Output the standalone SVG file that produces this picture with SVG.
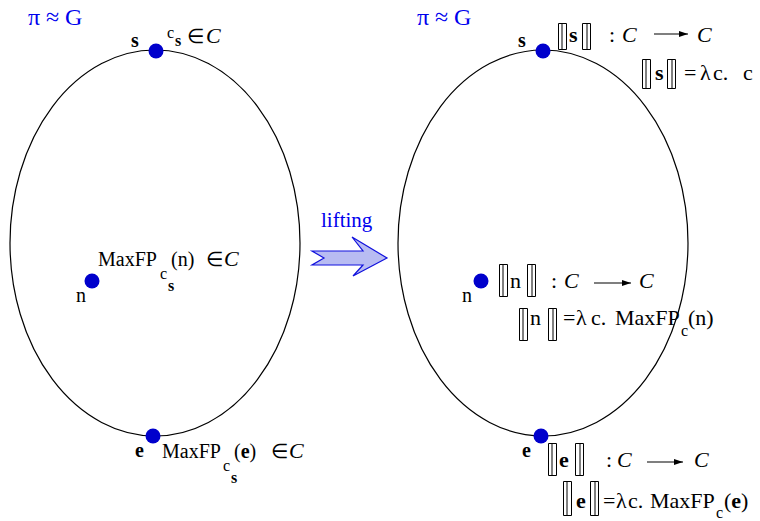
<svg xmlns="http://www.w3.org/2000/svg" width="760" height="521" viewBox="0 0 760 521">
<style>
.t{font-family:"Liberation Serif","Times New Roman",serif;font-size:20px;fill:#000}
.r{font-size:22px}
.b{font-weight:bold}
.i{font-style:italic;font-size:22px}
.sub{font-size:16px}
.blue{fill:#0000ee}
.pg{font-size:24px}
.brk{fill:none;stroke:#000;stroke-width:1}
.dot{fill:#0000cc}
.ell{fill:none;stroke:#000;stroke-width:1.2}
.ar{stroke:#000;stroke-width:1.2;fill:none;marker-end:url(#ah)}
</style>
<defs>
<marker id="ah" markerWidth="10" markerHeight="8" refX="9" refY="4" orient="auto" markerUnits="userSpaceOnUse">
<path d="M0,1 L9,4 L0,7 Z" fill="#000"/>
</marker>
</defs>
<rect width="760" height="521" fill="#fff"/>

<g id="left-graph">
<ellipse class="ell" cx="155" cy="243" rx="145" ry="193"/>
<text class="t blue pg" x="28" y="25">π</text>
<text class="t blue pg" x="46" y="25">≈</text>
<text class="t blue pg" x="65" y="25">G</text>
</g>
<g id="left-s">
<circle class="dot" cx="156" cy="51" r="7.5"/>
<text class="t b" x="131" y="47">s</text>
<text class="t sub" x="167" y="38">c</text>
<text class="t sub b" x="175" y="46">s</text>
<text class="t" x="187" y="43">∈</text>
<text class="t i" x="206" y="43">C</text>
</g>
<g id="left-n">
<circle class="dot" cx="92" cy="281" r="7.5"/>
<text class="t" x="76" y="302">n</text>
<text class="t" x="98" y="266">MaxFP</text>
<text class="t sub" x="160" y="279">c</text>
<text class="t sub b" x="168" y="291">s</text>
<text class="t" x="171" y="266">(n)</text>
<text class="t" x="206" y="266">∈</text>
<text class="t i" x="224" y="266">C</text>
</g>
<g id="left-e">
<circle class="dot" cx="153" cy="436" r="7.5"/>
<text class="t b" x="135" y="457">e</text>
<text class="t" x="162" y="458">MaxFP</text>
<text class="t sub" x="223" y="471">c</text>
<text class="t sub b" x="231" y="483">s</text>
<text class="t" x="234" y="458">(<tspan class="b">e</tspan>)</text>
<text class="t" x="271" y="458">∈</text>
<text class="t i" x="289" y="458">C</text>
</g>

<g id="lifting">
<text class="t blue" x="321" y="227" style="font-size:21px">lifting</text>
<polygon points="312,251 363,251 352,237 387,258 353,276 363,265 312,265 324,258" fill="#b8bcf2" stroke="#1010dd" stroke-width="1.2"/>
</g>

<g id="right-graph">
<ellipse class="ell" cx="543" cy="243" rx="145" ry="193"/>
<text class="t blue pg" x="417" y="25">π</text>
<text class="t blue pg" x="435" y="25">≈</text>
<text class="t blue pg" x="454" y="25">G</text>
</g>
<g id="right-s">
<circle class="dot" cx="543" cy="51" r="7.5"/>
<text class="t b" x="518" y="47">s</text>
<path class="brk" d="M558.5,23.5h8v26h-8z m3.5,0v26"/>
<text class="t b r" x="569" y="42">s</text>
<path class="brk" d="M582.5,23.5h8v26h-8z m4.5,0v26"/>
<text class="t r" x="609" y="42">:</text>
<text class="t i" x="622" y="42">C</text>
<line class="ar" x1="654" y1="34" x2="688" y2="34"/>
<text class="t i" x="697" y="42">C</text>
<path class="brk" d="M642.5,59.5h8v29h-8z m3.5,0v29"/>
<text class="t b r" x="655" y="80">s</text>
<path class="brk" d="M667.5,59.5h8v29h-8z m4.5,0v29"/>
<text class="t r" x="684" y="80">=</text>
<text class="t r" x="700" y="80">λ</text>
<text class="t r" x="713" y="80">c.</text>
<text class="t r" x="743" y="80">c</text>
</g>
<g id="right-n">
<circle class="dot" cx="481" cy="281" r="7.5"/>
<text class="t" x="462" y="302">n</text>
<path class="brk" d="M499.5,264.5h8v32h-8z m3.5,0v32"/>
<text class="t r" x="510" y="288">n</text>
<path class="brk" d="M527.5,264.5h8v32h-8z m4.5,0v32"/>
<text class="t r" x="551" y="288">:</text>
<text class="t i" x="564" y="288">C</text>
<line class="ar" x1="594" y1="283" x2="631" y2="283"/>
<text class="t i" x="639" y="288">C</text>
<path class="brk" d="M519.5,308.5h8v32h-8z m3.5,0v32"/>
<text class="t r" x="530" y="325">n</text>
<path class="brk" d="M548.5,308.5h8v32h-8z m4.5,0v32"/>
<text class="t r" x="563" y="325">=</text>
<text class="t r" x="576" y="325">λ</text>
<text class="t r" x="591" y="325">c.</text>
<text class="t r" x="615" y="325">MaxFP</text>
<text class="t sub" x="681" y="336">c</text>
<text class="t r" x="688" y="325">(n)</text>
</g>
<g id="right-e">
<circle class="dot" cx="541" cy="436" r="7.5"/>
<text class="t b" x="522" y="457">e</text>
<path class="brk" d="M548.5,443.5h8v32h-8z m3.5,0v32"/>
<text class="t b r" x="559" y="467">e</text>
<path class="brk" d="M575.5,443.5h8v32h-8z m4.5,0v32"/>
<text class="t r" x="606" y="467">:</text>
<text class="t i" x="617" y="467">C</text>
<line class="ar" x1="647" y1="462" x2="683" y2="462"/>
<text class="t i" x="694" y="467">C</text>
<path class="brk" d="M563.5,481.5h8v34h-8z m3.5,0v34"/>
<text class="t b r" x="576" y="508">e</text>
<path class="brk" d="M590.5,481.5h8v34h-8z m4.5,0v34"/>
<text class="t r" x="603" y="508">=</text>
<text class="t r" x="616" y="508">λ</text>
<text class="t r" x="628" y="508">c.</text>
<text class="t r" x="650" y="508">MaxFP</text>
<text class="t sub" x="716" y="518">c</text>
<text class="t r" x="724" y="508">(<tspan class="b">e</tspan>)</text>
</g>
</svg>
